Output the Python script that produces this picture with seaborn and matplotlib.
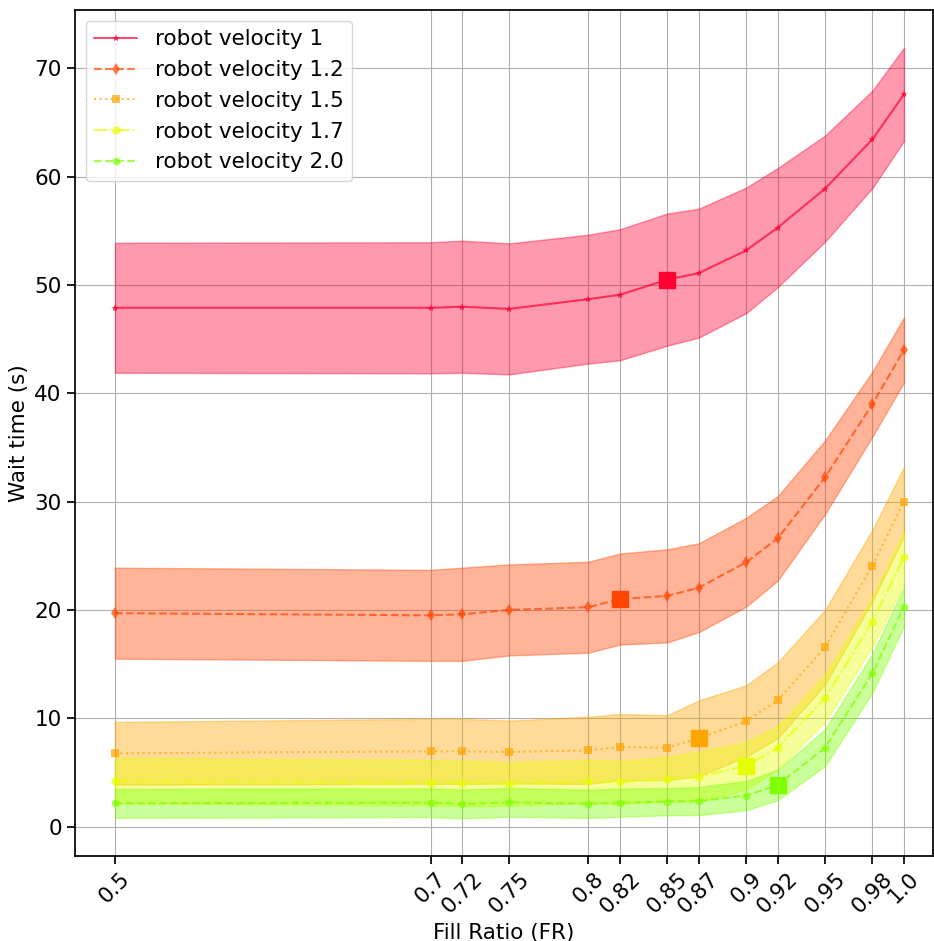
import matplotlib
matplotlib.use("Agg")
import matplotlib.pyplot as plt
import seaborn as sns
import numpy as np

# fill ratios (x positions / tick labels)
fill_ratio = [0.5, 0.7, 0.72, 0.75, 0.8, 0.82, 0.85, 0.87, 0.9, 0.92, 0.95, 0.98, 1.0]
tick_labels = ["0.5", "0.7", "0.72", "0.75", "0.8", "0.82", "0.85", "0.87", "0.9", "0.92", "0.95", "0.98", "1.0"]

# mean wait time and std per robot velocity
v1_mean = [47.9, 47.9, 48.0, 47.8, 48.7, 49.1, 50.5, 51.1, 53.2, 55.3, 58.9, 63.45, 67.6]
v1_std = [6.0, 6.05, 6.1, 6.05, 5.95, 6.05, 6.1, 5.95, 5.8, 5.5, 4.9, 4.5, 4.3]
v12_mean = [19.7, 19.5, 19.6, 20.0, 20.25, 21.0, 21.3, 22.05, 24.4, 26.6, 32.25, 39.0, 44.0]
v12_std = [4.2, 4.2, 4.3, 4.2, 4.2, 4.2, 4.3, 4.1, 4.1, 3.9, 3.4, 3.0, 3.0]
v15_mean = [6.76, 6.94, 6.94, 6.88, 7.03, 7.34, 7.28, 8.14, 9.74, 11.65, 16.55, 24.1, 30.0]
v15_std = [2.9, 3.0, 3.0, 2.9, 3.1, 3.05, 3.0, 3.5, 3.3, 3.5, 3.45, 3.3, 3.2]
v17_mean = [4.23, 4.05, 3.99, 3.92, 4.17, 4.08, 4.39, 4.6, 5.59, 7.28, 11.84, 18.9, 24.85]
v17_std = [2.1, 2.1, 2.1, 2.0, 2.0, 2.0, 2.05, 2.3, 2.2, 2.0, 2.2, 2.3, 2.4]
v20_mean = [2.14, 2.2, 2.08, 2.23, 2.1, 2.2, 2.29, 2.35, 2.85, 3.83, 7.28, 14.15, 20.3]
v20_std = [1.33, 1.33, 1.33, 1.33, 1.3, 1.3, 1.25, 1.3, 1.35, 1.4, 1.7, 1.8, 1.8]

labels = ["robot velocity 1", "robot velocity 1.2", "robot velocity 1.5", "robot velocity 1.7", "robot velocity 2.0"]
means = [v1_mean, v12_mean, v15_mean, v17_mean, v20_mean]
stds = [v1_std, v12_std, v15_std, v17_std, v20_std]
# fill ratio where the big square marker sits, per series
highlight_fr = [0.85, 0.82, 0.87, 0.9, 0.92]

colors = ["#ff0033", "#ff4500", "#ffa500", "#e6ff00", "#7fff00"]
markers = ["*", "d", "s", "o", "h"]
linestyles = ["-", "--", ":", "-.", "--"]

sns.set_theme(style="ticks", rc={"text.color": "black", "axes.labelcolor": "black",
                                 "xtick.color": "black", "ytick.color": "black"})
plt.rcParams['font.family'] = ['DejaVu Sans']

fig, ax = plt.subplots(figsize=(9.34, 9.41), dpi=100)
fig.subplots_adjust(left=0.0803, right=0.9989, bottom=0.0906, top=0.9894)

x = np.array(fill_ratio)
for lab, m, s, c, mk, ls, hx in zip(labels, means, stds, colors, markers, linestyles, highlight_fr):
    m = np.array(m)
    s = np.array(s)
    ax.fill_between(x, m - s, m + s, color=c, alpha=0.4, linewidth=1)
    sns.lineplot(x=x, y=m, ax=ax, color=c, marker=mk, linestyle=ls, alpha=0.7,
                 markersize=6, markeredgewidth=0, linewidth=1.5, label=lab)
    idx = fill_ratio.index(hx)
    ax.plot([hx], [m[idx]], marker="s", markersize=12, color=c, linestyle="none")

ax.set_xticks(fill_ratio)
ax.set_xticklabels(tick_labels, rotation=45, fontsize=15.5)
ax.tick_params(axis="y", labelsize=15.5)
ax.set_xlim(0.4747, 1.0184)
ax.set_ylim(-2.7, 75.4)
ax.grid(True, color="#b0b0b0", linewidth=0.8)
ax.set_xlabel("Fill Ratio (FR)", fontsize=15.5)
ax.set_ylabel("Wait time (s)", fontsize=15.5)
for sp in ax.spines.values():
    sp.set_color("black")
ax.legend(loc="upper left", fontsize=15.5)

fig.savefig("out.png", dpi=100)
